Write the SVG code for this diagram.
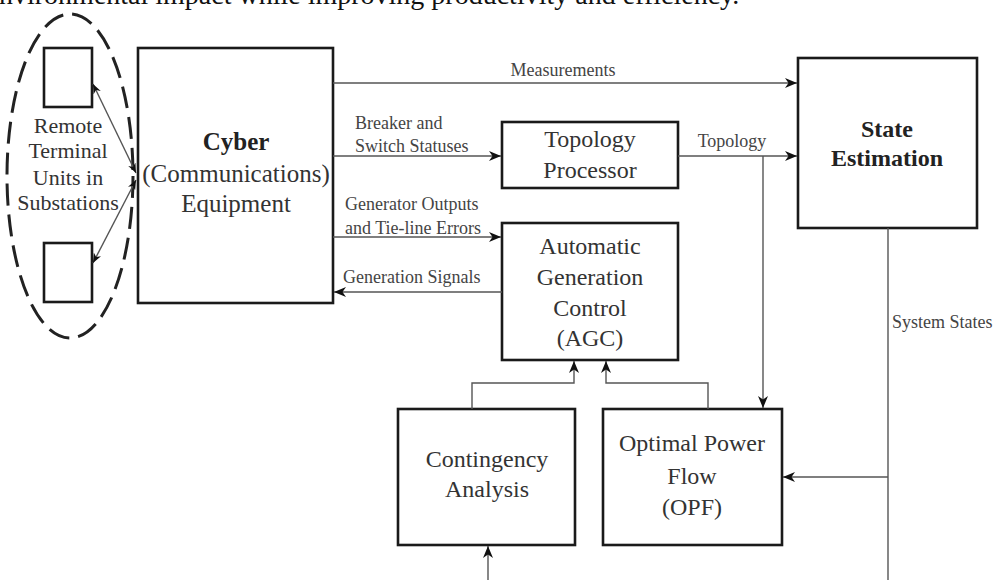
<svg xmlns="http://www.w3.org/2000/svg" width="996" height="580" viewBox="0 0 996 580">
<defs>
<style>
.box{fill:#fff;stroke:#1a1a1a;stroke-width:2.6}
.t{font-family:"Liberation Serif","Times New Roman",serif;fill:#333;font-size:24px;text-anchor:middle}
.b{font-weight:bold;fill:#222}
.lbl{font-family:"Liberation Serif","Times New Roman",serif;fill:#444;font-size:18px}
.ln{fill:none;stroke:#555;stroke-width:1.4}
</style>
<marker id="ah" viewBox="0 0 12 10" refX="12" refY="5" markerWidth="12" markerHeight="10" markerUnits="userSpaceOnUse" orient="auto-start-reverse">
<path d="M0,0 L12,5 L0,10 L3.5,5 Z" fill="#111"/>
</marker>
<marker id="ahs" viewBox="0 0 12 10" refX="12" refY="5" markerWidth="10" markerHeight="8" markerUnits="userSpaceOnUse" orient="auto-start-reverse">
<path d="M0,0 L12,5 L0,10 L3.5,5 Z" fill="#111"/>
</marker>
</defs>
<rect width="996" height="580" fill="#fff"/>
<text x="-1" y="4" font-family="Liberation Serif, Times New Roman, serif" font-size="28" fill="#111">nvironmental impact while improving productivity and efficiency.</text>

<g id="rtu-group">
<ellipse cx="70" cy="176" rx="63" ry="162" fill="none" stroke="#222" stroke-width="3" stroke-dasharray="22 9"/>
<text class="t" style="font-size:22px" x="68" y="133">Remote</text>
<text class="t" style="font-size:22px" x="68" y="158">Terminal</text>
<text class="t" style="font-size:22px" x="68" y="185">Units in</text>
<text class="t" style="font-size:22px" x="68" y="210">Substations</text>
</g>
<g id="rtu1"><rect class="box" x="44" y="48" width="48" height="59"/></g>
<g id="rtu2"><rect class="box" x="44" y="243" width="48" height="59"/></g>

<g id="cyber">
<rect class="box" x="138" y="48" width="195" height="255"/>
<text class="t b" style="font-size:25px" x="236" y="150">Cyber</text>
<text class="t" style="font-size:25px" x="236" y="182">(Communications)</text>
<text class="t" style="font-size:25px" x="236" y="212">Equipment</text>
</g>

<g id="topology">
<rect class="box" x="502" y="122" width="176" height="66"/>
<text class="t" x="590" y="147">Topology</text>
<text class="t" x="590" y="178">Processor</text>
</g>

<g id="state-estimation">
<rect class="box" x="798" y="58" width="179" height="170"/>
<text class="t b" x="887" y="137">State</text>
<text class="t b" x="887" y="166">Estimation</text>
</g>

<g id="agc">
<rect class="box" x="502" y="223" width="176" height="137"/>
<text class="t" x="590" y="254">Automatic</text>
<text class="t" x="590" y="285">Generation</text>
<text class="t" x="590" y="316">Control</text>
<text class="t" x="590" y="346">(AGC)</text>
</g>

<g id="contingency">
<rect class="box" x="398" y="409" width="177" height="136"/>
<text class="t" x="487" y="467">Contingency</text>
<text class="t" x="487" y="497">Analysis</text>
</g>

<g id="opf">
<rect class="box" x="603" y="409" width="179" height="136"/>
<text class="t" x="692" y="451">Optimal Power</text>
<text class="t" x="692" y="484">Flow</text>
<text class="t" x="692" y="515">(OPF)</text>
</g>

<g id="connectors">
<line class="ln" x1="136" y1="173" x2="93" y2="84" marker-start="url(#ahs)" marker-end="url(#ahs)"/>
<line class="ln" x1="136" y1="180" x2="93" y2="263" marker-start="url(#ahs)" marker-end="url(#ahs)"/>
<line class="ln" x1="333" y1="83" x2="797" y2="83" marker-end="url(#ah)"/>
<text class="lbl" x="563" y="76" text-anchor="middle">Measurements</text>
<line class="ln" x1="333" y1="156" x2="501" y2="156" marker-end="url(#ah)"/>
<text class="lbl" x="355" y="129">Breaker and</text>
<text class="lbl" x="355" y="152">Switch Statuses</text>
<line class="ln" x1="678" y1="156" x2="797" y2="156" marker-end="url(#ah)"/>
<text class="lbl" x="732" y="147" text-anchor="middle">Topology</text>
<line class="ln" x1="763" y1="156" x2="763" y2="408" marker-end="url(#ah)"/>
<line class="ln" x1="333" y1="237" x2="501" y2="237" marker-end="url(#ah)"/>
<text class="lbl" x="345" y="210">Generator Outputs</text>
<text class="lbl" x="345" y="234">and Tie-line  Errors</text>
<line class="ln" x1="502" y1="292" x2="334" y2="292" marker-end="url(#ah)"/>
<text class="lbl" x="343" y="283">Generation Signals</text>
<path class="ln" d="M472,409 V383 H574 V361" marker-end="url(#ah)"/>
<path class="ln" d="M708,409 V383 H606 V361" marker-end="url(#ah)"/>
<line class="ln" x1="888" y1="228" x2="888" y2="580"/>
<line class="ln" x1="888" y1="477" x2="783" y2="477" marker-end="url(#ah)"/>
<text class="lbl" x="892" y="328">System States</text>
<line class="ln" x1="488" y1="580" x2="488" y2="546" marker-end="url(#ah)"/>
</g>
</svg>
